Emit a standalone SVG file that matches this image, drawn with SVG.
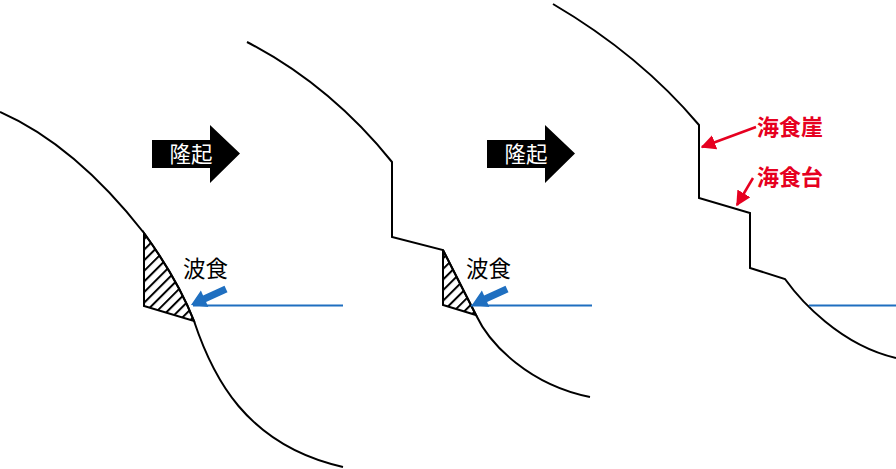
<svg xmlns="http://www.w3.org/2000/svg" width="896" height="469" viewBox="0 0 896 469">
<style>
.land{fill:none;stroke:#000;stroke-width:2;stroke-linejoin:miter}
.water{stroke:#1F6FC0;stroke-width:2;fill:none}
.blue{fill:#1F6FC0}
.hatch{fill:url(#hatch);stroke:#000;stroke-width:2;stroke-linejoin:miter}
.lbl{font-family:"Liberation Serif","Noto Sans CJK JP",serif;font-size:22.5px;fill:#000}
.up{font-family:"Liberation Serif","Noto Sans CJK JP",serif;font-size:21.5px;fill:#fff;text-anchor:middle}
.red{font-family:"Liberation Sans","Noto Sans CJK JP",sans-serif;font-size:22px;font-weight:bold;fill:#E60020}
.rline{stroke:#E60020;stroke-width:2.5;fill:none}
</style>
<defs>
<pattern id="hatch" patternUnits="userSpaceOnUse" width="7.5" height="7.5" patternTransform="rotate(45)">
<rect width="7.5" height="7.5" fill="#fff"/>
<line x1="1" y1="0" x2="1" y2="7.5" stroke="#000" stroke-width="2"/>
</pattern>
<marker id="rh" viewBox="0 0 10 10" refX="9" refY="5" markerWidth="6" markerHeight="6" orient="auto" markerUnits="strokeWidth">
<path d="M0,0 L10,5 L0,10 z" fill="#E60020"/>
</marker>
<path id="bigArrow" d="M0,0 H58 V-15 L88,13.5 L58,43 V28 H0 z"/>
<polygon id="blueArrow" points="224.5,285.8 203.1,295.6 200.9,290.6 191,305 208.3,307.0 206.1,302.0 227.5,292.2"/>
</defs>

<g id="panel1">
<path class="hatch" d="M144,233 V306 L194,321 Q178,280 144,233 z"/>
<path class="land" d="M0,112 Q75,145 144,233 Q178,280 194,321 C212,375 245,445 343,467"/>
<line class="water" x1="193" y1="305.5" x2="343" y2="305.5"/>
<use href="#blueArrow" class="blue"/>
<text class="lbl" x="183" y="277">波食</text>
</g>

<g id="uplift1">
<use href="#bigArrow" x="152" y="140" fill="#000"/>
<text class="up" x="191" y="162">隆起</text>
</g>

<g id="panel2">
<path class="hatch" d="M443,250 V305 L476,315 z"/>
<path class="land" d="M247,42 Q330,85 392,162 V237 L443,250 L476,315 C490,345 530,385 590,397"/>
<line class="water" x1="471" y1="305.5" x2="592" y2="305.5"/>
<use href="#blueArrow" class="blue" transform="translate(281,0)"/>
<text class="lbl" x="466" y="277">波食</text>
</g>

<g id="uplift2">
<use href="#bigArrow" x="487" y="140" fill="#000"/>
<text class="up" x="526" y="162">隆起</text>
</g>

<g id="panel3">
<path class="land" d="M553,4 Q640,55 699,125 V198 L750,213 V268 L785,279 C800,300 840,345 896,358"/>
<line class="water" x1="809" y1="305.5" x2="896" y2="305.5"/>
<text class="red" x="757" y="135">海食崖</text>
<text class="red" x="757" y="185">海食台</text>
</g>

<g id="connectors">
<line class="rline" x1="756" y1="127" x2="702" y2="147" marker-end="url(#rh)"/>
<line class="rline" x1="753" y1="178" x2="737" y2="205" marker-end="url(#rh)"/>
</g>
</svg>
